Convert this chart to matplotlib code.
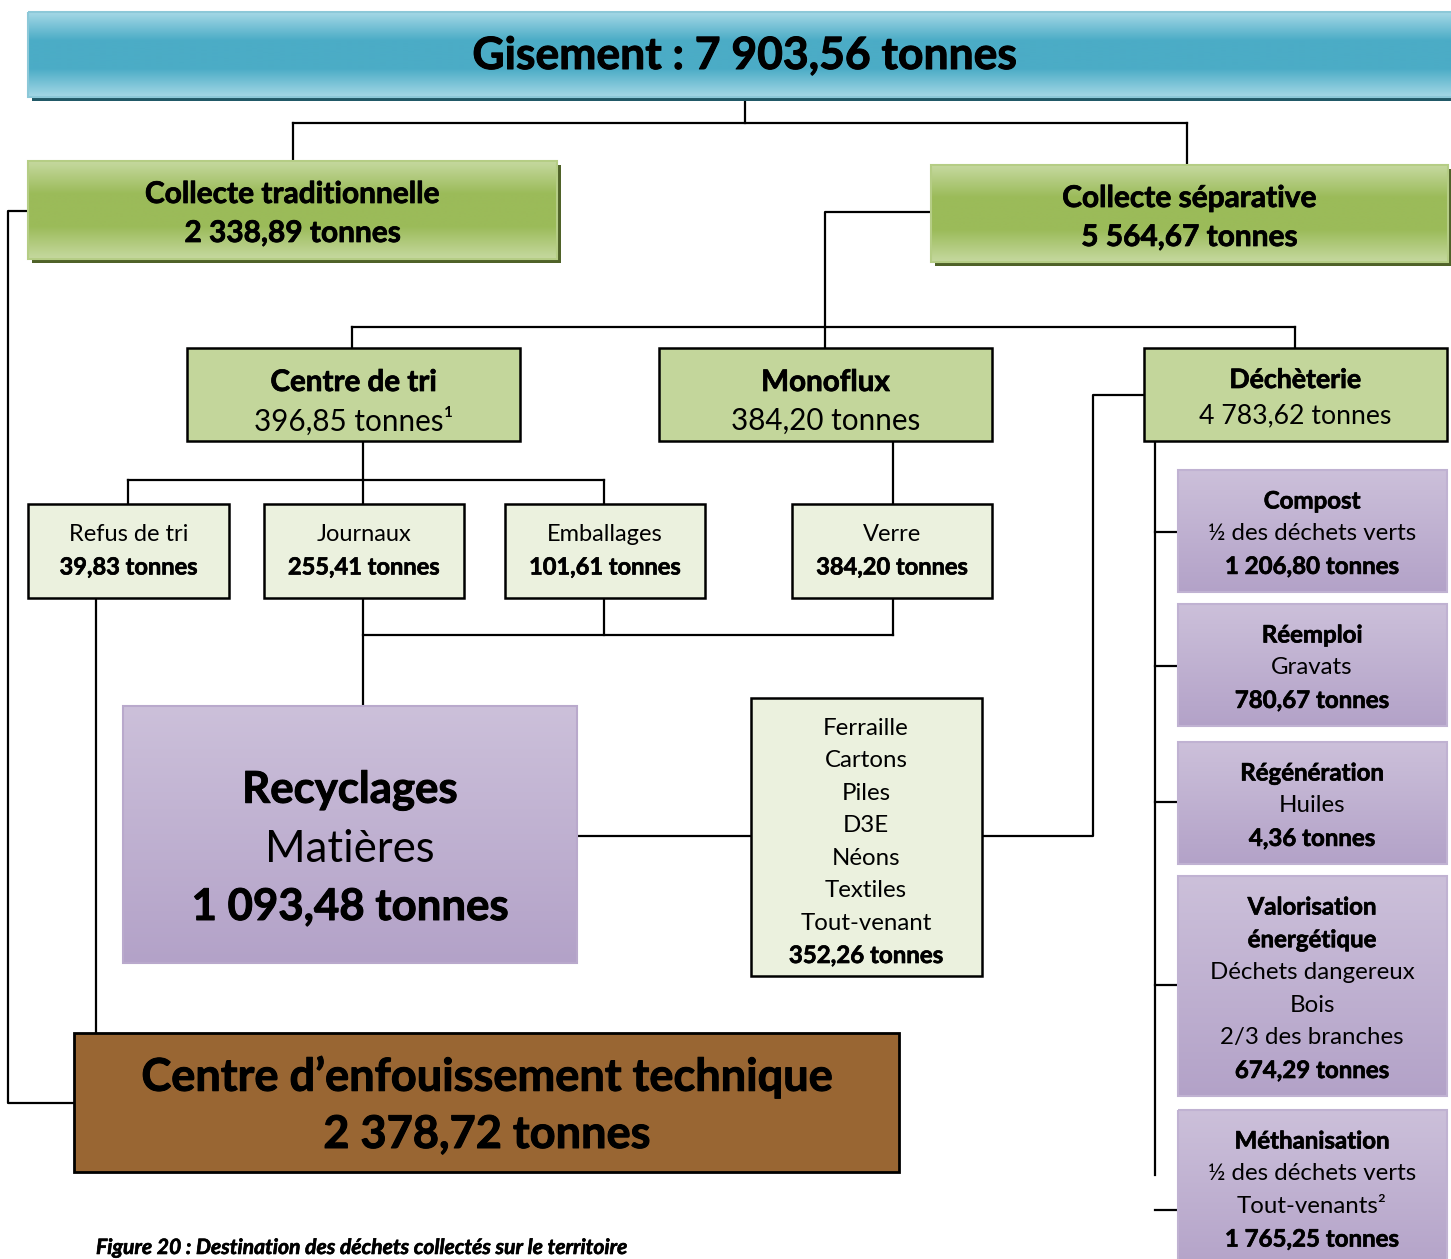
import numpy as np
import matplotlib
matplotlib.use("Agg")
import matplotlib.pyplot as plt
from matplotlib.patches import Rectangle
from matplotlib.colors import to_rgb
import matplotlib.patheffects as pe

# ---------------- data ----------------
gisement_total = 7903.56
collecte_labels = ["Collecte traditionnelle", "Collecte séparative"]
collecte_tonnes = [2338.89, 5564.67]
separative_labels = ["Centre de tri", "Monoflux", "Déchèterie"]
separative_tonnes = [396.85, 384.20, 4783.62]
separative_notes = ["¹", "", ""]
tri_labels = ["Refus de tri", "Journaux", "Emballages", "Verre"]
tri_tonnes = [39.83, 255.41, 101.61, 384.20]
recyclage_title = ["Recyclages", "Matières"]
recyclage_tonnes = 1093.48
decheterie_items = ["Ferraille", "Cartons", "Piles", "D3E", "Néons", "Textiles", "Tout-venant"]
decheterie_items_tonnes = 352.26
filiere_titles = [["Compost"], ["Réemploi"], ["Régénération"],
                  ["Valorisation", "énergétique"], ["Méthanisation"]]
filiere_details = [["½ des déchets verts"], ["Gravats"], ["Huiles"],
                   ["Déchets dangereux", "Bois", "2/3 des branches"],
                   ["½ des déchets verts", "Tout-venants²"]]
filiere_tonnes = [1206.80, 780.67, 4.36, 674.29, 1765.25]
cet_label = "Centre d’enfouissement technique"
cet_tonnes = 2378.72
caption = "Figure 20 : Destination des déchets collectés sur le territoire"


def fr(v):
    return f"{v:,.2f}".replace(",", " ").replace(".", ",") + " tonnes"


plt.rcParams['font.family'] = ['Lato', 'DejaVu Sans']

W, H = 1451, 1259
fig = plt.figure(figsize=(W / 100, H / 100), dpi=100)
ax = fig.add_axes([0, 0, 1, 1])
ax.set_xlim(0, W)
ax.set_ylim(H, 0)
ax.axis("off")

LW = 1.6
DY = 2  # small vertical text offset


def seg(xs, ys, z=1):
    ax.plot(xs, ys, color="black", lw=LW, solid_capstyle="projecting", zorder=z)


def grad_box(x0, y0, x1, y1, stops, edge, shadow=None, elw=1.5):
    if shadow is not None:
        ax.add_patch(Rectangle((x0 + 4, y0 + 4), x1 - x0, y1 - y0,
                               facecolor=shadow, edgecolor="none", zorder=2))
    n = 256
    t = np.linspace(0, 1, n)
    pos = np.linspace(0, 1, len(stops))
    cols = np.array([to_rgb(c) for c in stops])
    arr = np.stack([np.interp(t, pos, cols[:, k]) for k in range(3)], axis=1)
    img = arr[:, None, :]
    ax.imshow(img, extent=(x0, x1, y1, y0), origin="upper", aspect="auto",
              interpolation="bilinear", zorder=3)
    ax.add_patch(Rectangle((x0, y0), x1 - x0, y1 - y0, facecolor="none",
                           edgecolor=edge, lw=elw, zorder=4))


def flat_box(x0, y0, x1, y1, fill, edge="black", elw=1.8):
    ax.add_patch(Rectangle((x0, y0), x1 - x0, y1 - y0, facecolor=fill,
                           edgecolor=edge, lw=elw, zorder=3))


def txt(x, y, s, size, bold=False, italic=False, ha="center"):
    t = ax.text(x, y + DY, s, ha=ha, va="center", fontsize=size,
                fontweight="bold" if bold else "normal",
                fontstyle="italic" if italic else "normal",
                color="black", zorder=6)
    if bold:
        t.set_path_effects([pe.withStroke(linewidth=0.2 + size * 0.016, foreground="black")])
    return t


BLUE = ["#a5d8e6", "#4bacc6", "#4bacc6", "#a5d8e6"]
GREEN = ["#c6d9a0", "#9bbb59", "#9bbb59", "#c6d9a0"]
PURPLE = ["#ccc0da", "#b3a2c8"]
LIGHT = "#ebf1de"
GREENFLAT = "#c3d69b"

# ---------------- connectors ----------------
seg([745, 745], [88, 123])
seg([293, 1187], [123, 123])
seg([293, 293], [123, 161])
seg([1187, 1187], [123, 165])
# collecte traditionnelle -> CET
seg([28, 8, 8, 74], [211, 211, 1103, 1103])
# collecte séparative -> three
seg([931, 825, 825], [212, 212, 327])
seg([352, 1295], [327, 327])
seg([352, 352], [327, 348])
seg([825, 825], [327, 348])
seg([1295, 1295], [327, 348])
# centre de tri -> children
seg([363, 363], [441, 480])
seg([128, 604], [480, 480])
for xc in (128, 363, 604):
    seg([xc, xc], [480, 504])
seg([893, 893], [441, 504])
# children -> recyclages
seg([363, 363], [598, 708])
seg([363, 893], [635, 635])
seg([604, 604], [598, 635])
seg([893, 893], [598, 635])
seg([96, 96], [598, 1033])
# recyclages <-> mixed box <-> déchèterie
seg([577, 751], [836, 836])
seg([982, 1093, 1093, 1144], [836, 836, 395, 395])
# déchèterie -> filieres
seg([1155, 1155], [441, 1175])
for yt in (532, 666, 802, 985):
    seg([1155, 1178], [yt, yt])
seg([1155, 1178], [1210, 1210])

# ---------------- boxes ----------------
# Gisement banner
grad_box(28, 12, 1460, 97, BLUE, "#8cc8d8", shadow="#215967")
txt(745, 54, "Gisement : " + fr(gisement_total), 32, bold=True)

# Collecte
col_boxes = [(28, 161, 557, 259), (931, 165, 1448, 262)]
for (x0, y0, x1, y1), lab, v in zip(col_boxes, collecte_labels, collecte_tonnes):
    grad_box(x0, y0, x1, y1, GREEN, "#b5cd85", shadow="#4f6228")
    xc = (x0 + x1) / 2
    txt(xc, y0 + 31, lab, 21.5, bold=True)
    txt(xc, y0 + 70, fr(v), 21.5, bold=True)

# Séparative level
sep_boxes = [(187, 348, 520, 441), (659, 348, 992, 441), (1144, 348, 1447, 441)]
sep_sizes = [21.3, 21.3, 19.2]
sep_off = [(32, 71), (32, 71), (30, 66)]
for (x0, y0, x1, y1), lab, v, note, fs, (o1, o2) in zip(
        sep_boxes, separative_labels, separative_tonnes, separative_notes, sep_sizes, sep_off):
    flat_box(x0, y0, x1, y1, GREENFLAT)
    xc = (x0 + x1) / 2
    txt(xc, y0 + o1, lab, fs, bold=True)
    txt(xc, y0 + o2, fr(v) + note, fs)

# Tri level
tri_boxes = [(28, 504, 229, 598), (264, 504, 464, 598), (505, 504, 705, 598), (792, 504, 992, 598)]
for (x0, y0, x1, y1), lab, v in zip(tri_boxes, tri_labels, tri_tonnes):
    flat_box(x0, y0, x1, y1, LIGHT)
    xc = (x0 + x1) / 2
    txt(xc, y0 + 28, lab, 17)
    txt(xc, y0 + 61, fr(v), 17, bold=True)

# Recyclages
grad_box(123, 706, 577, 963, PURPLE, "#b9a9cc")
txt(350, 788, recyclage_title[0], 31.5, bold=True)
txt(350, 847, recyclage_title[1], 31.5)
txt(350, 905, fr(recyclage_tonnes), 31.5, bold=True)

# Mixed déchèterie box
flat_box(751, 698, 982, 976, LIGHT)
for i, item in enumerate(decheterie_items):
    txt(866, 726 + i * 32.5, item, 17.3)
txt(866, 726 + len(decheterie_items) * 32.5, fr(decheterie_items_tonnes), 17.3, bold=True)

# Filieres on the right
fil_boxes = [(470, 592), (604, 726), (742, 864), (876, 1096), (1110, 1275)]
for (y0, y1), titles, details, v in zip(fil_boxes, filiere_titles, filiere_details, filiere_tonnes):
    grad_box(1178, y0, 1447, y1, PURPLE, "#c0b2d2")
    y = y0 + 29
    for t in titles:
        txt(1312, y, t, 17.3, bold=True)
        y += 32.7
    for d in details:
        txt(1312, y, d, 17.3)
        y += 32.7
    txt(1312, y, fr(v), 17.3, bold=True)

# CET
flat_box(74, 1033, 899, 1172, "#996633", elw=2)
txt(487, 1075, cet_label, 32.5, bold=True)
txt(487, 1133, fr(cet_tonnes), 32.5, bold=True)

# caption
txt(96, 1246, caption, 15.2, bold=True, italic=True, ha="left")

fig.savefig("out.png", dpi=100)
